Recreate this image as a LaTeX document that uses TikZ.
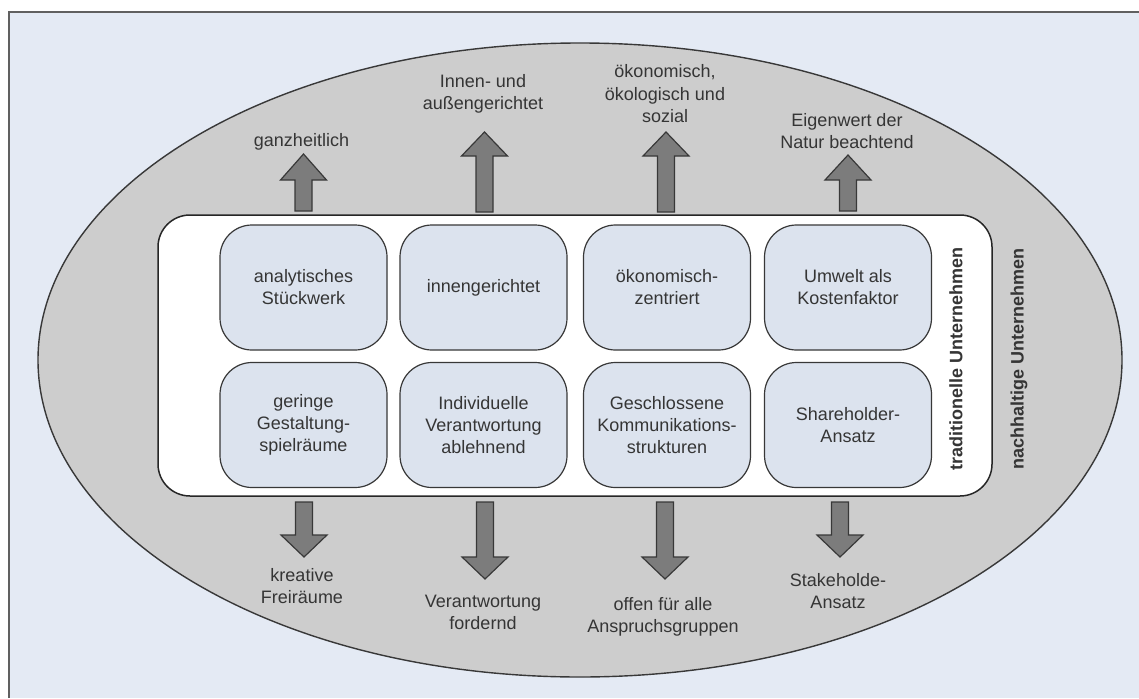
\documentclass[tikz,border=0pt]{standalone}
\usepackage{fontspec}
\setmainfont{Liberation Sans}
\definecolor{paper}{HTML}{E4EAF4}
\definecolor{ring}{HTML}{CDCDCD}
\definecolor{cell}{HTML}{DCE3EE}
\definecolor{arrowfill}{HTML}{7C7C7C}
\definecolor{txt}{HTML}{353535}
\definecolor{edge}{HTML}{383838}
% block arrow: centre x, tail y, neck y, tip y
\newcommand\bigarrow[4]{%
  \draw[blockarrow] (#1-8.5,#2) -- (#1-8.5,#3) -- (#1-23,#3) -- (#1,#4)
    -- (#1+23,#3) -- (#1+8.5,#3) -- (#1+8.5,#2) -- cycle;}
\begin{document}
\begin{tikzpicture}[x=1pt,y=-1pt,
  every node/.style={font=\fontsize{18}{22}\selectfont, text=txt, inner sep=0pt},
  cellbox/.style={draw=edge, line width=1.2pt, fill=cell, rounded corners=32pt,
    minimum width=167pt, minimum height=125pt, align=center},
  lbl/.style={align=center, anchor=base},
  sidelbl/.style={rotate=90, font=\fontsize{18}{22}\selectfont\bfseries},
  blockarrow/.style={draw=edge, line width=1.2pt, fill=arrowfill, line join=miter}]
\useasboundingbox (0,0) rectangle (1139,698);

% frame
\fill[paper] (9,12) rectangle (1139,698);
\draw[edge!80, line width=2pt] (9,698) -- (9,12) -- (1139,12);

% outer ellipse: sustainable company
\draw[fill=ring, draw=edge, line width=1.4pt] (580,360) ellipse [x radius=542, y radius=317];

% inner panel: traditional company
\node[draw=black!85, line width=1.5pt, fill=white, rounded corners=32pt,
  minimum width=834pt, minimum height=281pt] (panel) at (575,355.5) {};

% cells
\node[cellbox] (c11) at (303.5,287.5) {analytisches\\Stückwerk};
\node[cellbox] (c12) at (483.5,287.5) {innengerichtet};
\node[cellbox] (c13) at (667,287.5) {ökonomisch-\\zentriert};
\node[cellbox] (c14) at (848,287.5) {Umwelt als\\Kostenfaktor};
\node[cellbox] (c21) at (303.5,425) {geringe\\Gestaltung-\\spielräume};
\node[cellbox] (c22) at (483.5,425) {Individuelle\\Verantwortung\\ablehnend};
\node[cellbox] (c23) at (667,425) {Geschlossene\\Kommunikations-\\strukturen};
\node[cellbox] (c24) at (848,425) {Shareholder-\\Ansatz};

% side labels
\node[sidelbl] (trad) at (956,359) {traditionelle Unternehmen};
\node[sidelbl] (nach) at (1019,359) {nachhaltige Unternehmen};

% arrows up
\bigarrow{303.5}{211}{180}{154}
\bigarrow{484.5}{212}{156}{132}
\bigarrow{666}{212}{156}{132}
\bigarrow{848}{211}{180}{155}

% arrows down
\bigarrow{304}{502}{535}{557}
\bigarrow{485}{502}{557}{579}
\bigarrow{665}{502}{557}{579}
\bigarrow{840}{502}{535}{557}

% labels above (anchored at the baseline of the last line)
\node[lbl] (u1) at (301.5,146) {ganzheitlich};
\node[lbl] (u2) at (483,110) {Innen- und\\außengerichtet};
\node[lbl] (u3) at (665,122) {ökonomisch,\\ökologisch und\\sozial};
\node[lbl] (u4) at (847,148) {Eigenwert der\\Natur beachtend};

% labels below
\node[lbl] (d1) at (302,603) {kreative\\Freiräume};
\node[lbl] (d2) at (483,629) {Verantwortung\\fordernd};
\node[lbl] (d3) at (663,632) {offen für alle\\Anspruchsgruppen};
\node[lbl] (d4) at (838,608) {Stakeholde-\\Ansatz};
\end{tikzpicture}
\end{document}
